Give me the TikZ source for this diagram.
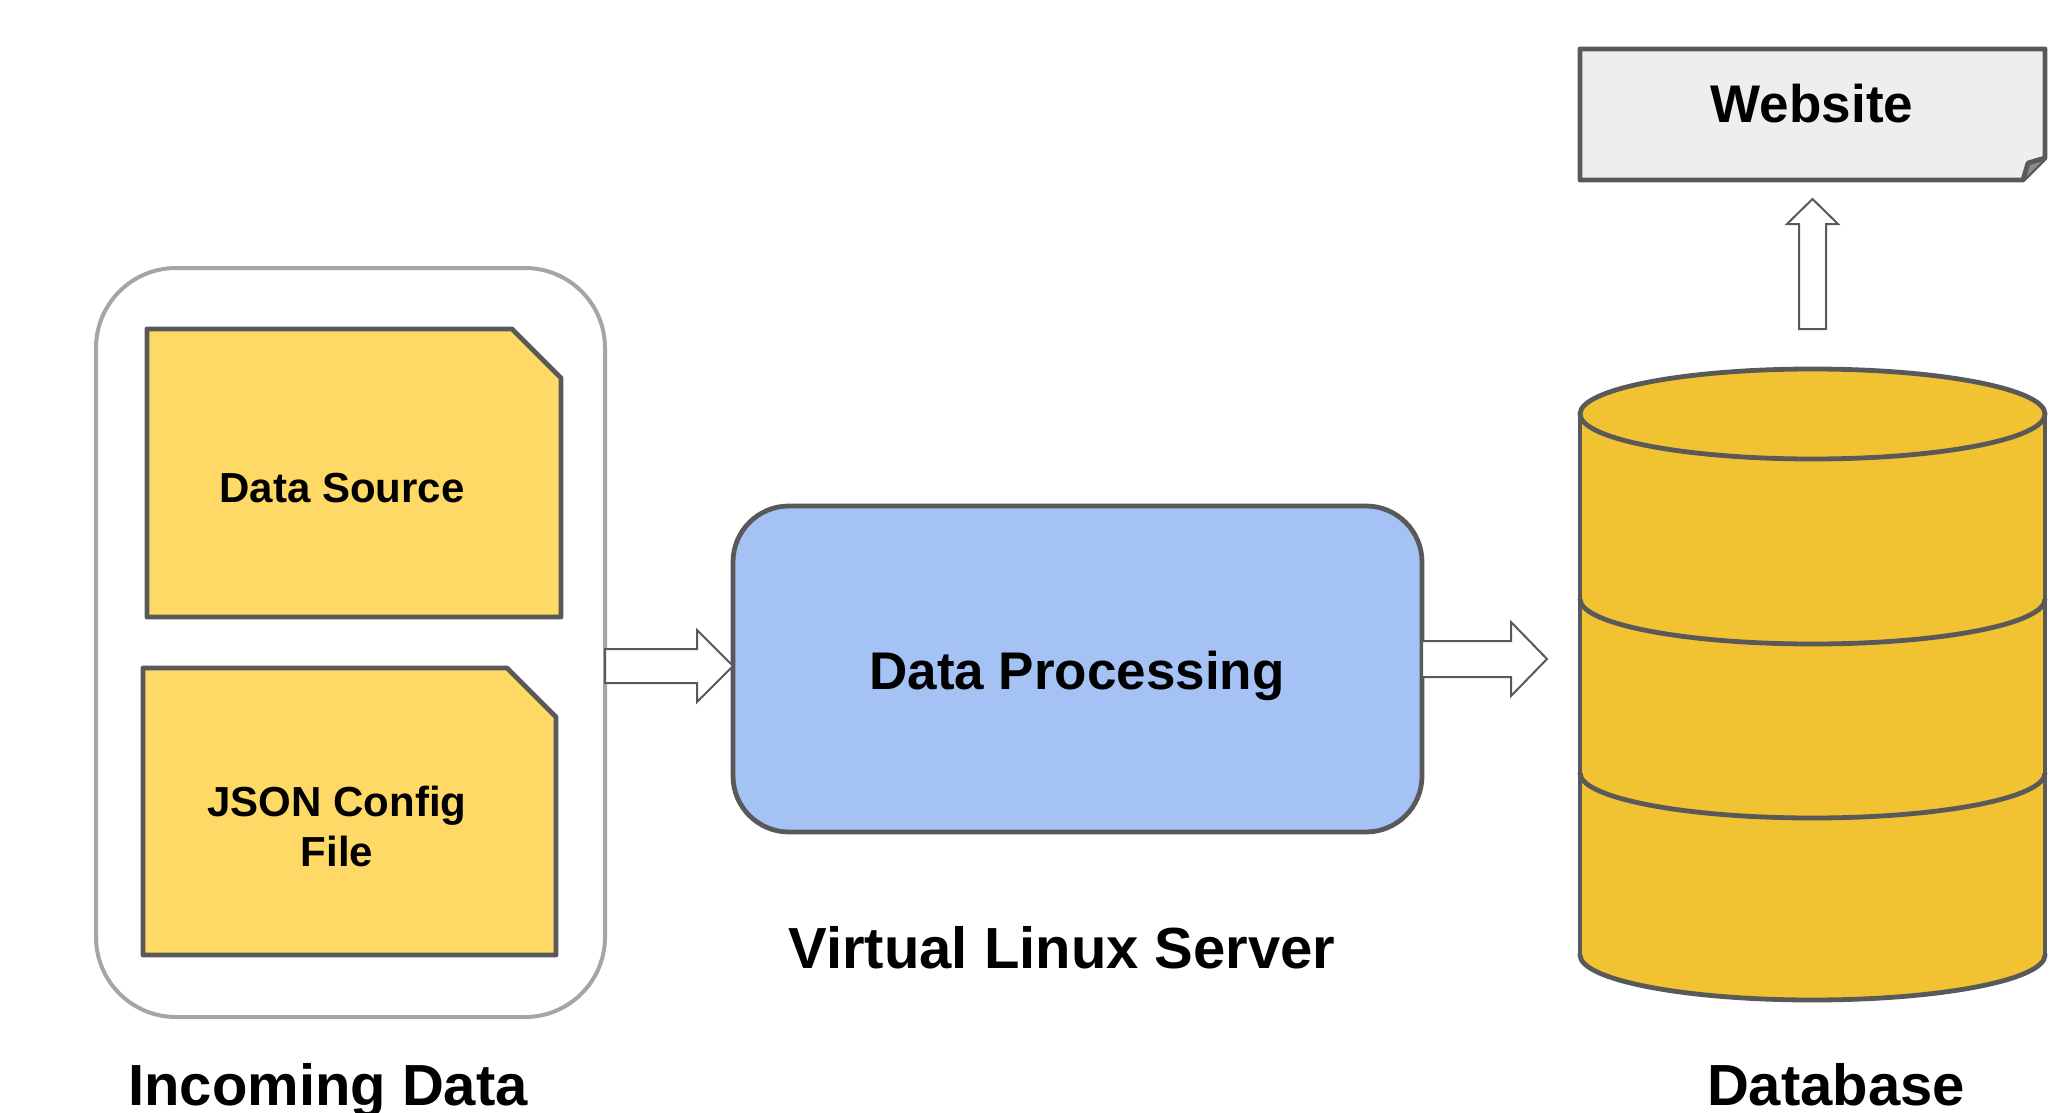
\documentclass[tikz,border=0pt]{standalone}
\usepackage{fontspec}
\setmainfont{Liberation Sans}
\usetikzlibrary{calc}

\definecolor{docyellow}{HTML}{FFD966}
\definecolor{dbyellow}{HTML}{F1C232}
\definecolor{procblue}{HTML}{A4C2F4}
\definecolor{webgray}{HTML}{EEEEEE}
\definecolor{edge}{HTML}{595959}
\definecolor{framegray}{HTML}{A5A5A5}

% horizontal block arrow: #1 start, #2 tip, #3 shaft half width, #4 head half width, #5 head length
\newcommand\hblockarrow[5]{%
  \draw[blockarrow] let \p1=(#1), \p2=(#2) in
    (\x1,\y1+#3) -- (\x2-#5,\y1+#3) -- (\x2-#5,\y1+#4) -- (\x2,\y1)
    -- (\x2-#5,\y1-#4) -- (\x2-#5,\y1-#3) -- (\x1,\y1-#3) -- cycle;}

\begin{document}
\begin{tikzpicture}[x=0.5pt,y=-0.5pt,
  outline/.style={draw=edge,line width=2.4pt,line join=round},
  docbox/.style={outline,fill=docyellow},
  area/.style={inner sep=0pt,outer sep=0pt},
  blockarrow/.style={draw=edge,line width=1pt,fill=white,line join=miter},
  txtsmall/.style={font=\fontsize{21}{25}\selectfont\bfseries,inner sep=0pt,align=center},
  txtmid/.style={font=\fontsize{26.5}{30}\selectfont\bfseries,inner sep=0pt},
  txtbig/.style={font=\fontsize{29}{34}\selectfont\bfseries,inner sep=0pt}]

\useasboundingbox (0,0) rectangle (2072,1113);

% --- incoming data group ---
\node[area,draw=framegray,line width=2pt,rounded corners=40pt,
      minimum width=254.5pt,minimum height=374.5pt] (inc) at (350.5,642.5) {};

\node[area,minimum width=207pt,minimum height=144pt] (ds) at (354,473) {};
\draw[docbox] (ds.north west) -- ($(ds.north east)+(-49,0)$) -- ($(ds.north east)+(0,49)$)
  -- (ds.south east) -- (ds.south west) -- cycle;
\node[txtsmall,anchor=base] (dstext) at (342,502) {Data Source};

\node[area,minimum width=206.5pt,minimum height=143.5pt] (json) at (349.5,811.5) {};
\draw[docbox] (json.north west) -- ($(json.north east)+(-49,0)$) -- ($(json.north east)+(0,49)$)
  -- (json.south east) -- (json.south west) -- cycle;
\node[txtsmall] (jsontext) at (337,826.5) {JSON Config\\File};

\node[txtbig,anchor=base] (inclabel) at (328,1105) {Incoming Data};

% --- processing server ---
\node[area,outline,fill=procblue,rounded corners=28pt,
      minimum width=344.5pt,minimum height=163pt] (proc) at (1077.5,669) {};
\node[txtmid,anchor=base] (proctext) at (1077,689) {Data Processing};
\node[txtbig,anchor=base] (srvlabel) at (1062,968) {Virtual Linux Server};

% --- database cylinder ---
\coordinate (db) at (1812.5,414);
\draw[outline,fill=dbyellow] (1812.5,955) ellipse [x radius=232.5,y radius=45];
\fill[dbyellow] (1580,414) rectangle (2045,955);
\draw[outline] (1580,414) -- (1580,955);
\draw[outline] (2045,414) -- (2045,955);
\begin{scope}
  \clip (1560,599) rectangle (2065,670);
  \draw[outline] (1812.5,599) ellipse [x radius=232.5,y radius=45];
\end{scope}
\begin{scope}
  \clip (1560,773) rectangle (2065,840);
  \draw[outline] (1812.5,773) ellipse [x radius=232.5,y radius=45];
\end{scope}
\draw[outline,fill=dbyellow] (db) ellipse [x radius=232.5,y radius=45];
\node[txtbig,anchor=base] (dblabel) at (1836,1105) {Database};

% --- website page with folded corner ---
\node[area,minimum width=232.5pt,minimum height=65.5pt] (web) at (1812.5,114.5) {};
\draw[outline,fill=webgray] (web.north west) -- (web.north east) -- ($(web.south east)+(0,-22)$)
  -- ($(web.south east)+(-22,0)$) -- (web.south west) -- cycle;
\draw[outline,fill=edge!70] ($(web.south east)+(-22,0)$) -- ($(web.south east)+(-17,-17)$)
  -- ($(web.south east)+(0,-22)$);
\node[txtmid,anchor=base] (webtext) at (1812,123) {Website};

% --- flow arrows ---
\coordinate (a1y) at (0,666);
\coordinate (a1s) at (inc.east |- a1y);
\coordinate (a1e) at (proc.west |- a1y);
\hblockarrow{a1s}{a1e}{8.5pt}{18pt}{18pt}

\coordinate (a2y) at (0,659);
\coordinate (a2s) at (proc.east |- a2y);
\coordinate (a2e) at (1547,659);
\hblockarrow{a2s}{a2e}{9pt}{18.5pt}{18pt}

\coordinate (a3s) at (1812.5,329);
\coordinate (a3e) at (1812.5,199);
\draw[blockarrow] let \p1=(a3s), \p2=(a3e) in
  (\x1-6.75pt,\y1) -- (\x1-6.75pt,\y2-12.5pt) -- (\x1-12.75pt,\y2-12.5pt) -- (\x2,\y2)
  -- (\x1+12.75pt,\y2-12.5pt) -- (\x1+6.75pt,\y2-12.5pt) -- (\x1+6.75pt,\y1) -- cycle;

\end{tikzpicture}
\end{document}
